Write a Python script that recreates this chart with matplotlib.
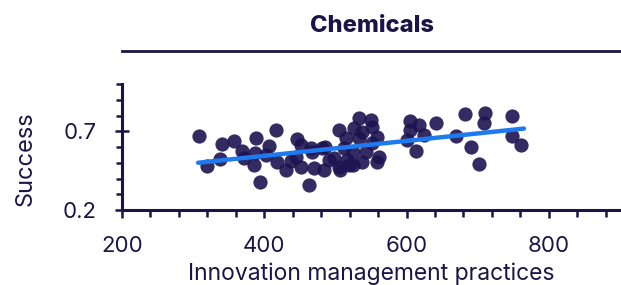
import matplotlib
matplotlib.use("Agg")
import matplotlib.pyplot as plt
from matplotlib.lines import Line2D
from matplotlib.ticker import MultipleLocator, FixedLocator, FormatStrFormatter

# data
practices = [308, 319, 338, 341, 357, 369, 372, 387, 385, 389, 394, 403, 407, 417,
             418, 430, 437, 445, 446, 452, 452, 463, 466, 470, 481, 484, 485, 498,
             505, 505, 512, 515, 516, 524, 524, 526, 533, 533, 538, 538, 543, 550,
             552, 552, 559, 559, 561, 507, 605, 618, 605, 601, 625, 613, 641, 670,
             682, 691, 702, 710, 709, 748, 748, 761, 519, 467, 491]
success = [0.668, 0.478, 0.523, 0.618, 0.637, 0.573, 0.529, 0.561, 0.485, 0.656,
           0.377, 0.548, 0.605, 0.706, 0.504, 0.453, 0.510, 0.535, 0.649, 0.611,
           0.472, 0.358, 0.592, 0.466, 0.592, 0.453, 0.599, 0.529, 0.706, 0.472,
           0.592, 0.656, 0.516, 0.567, 0.485, 0.719, 0.782, 0.656, 0.694, 0.504,
           0.567, 0.770, 0.725, 0.624, 0.662, 0.504, 0.535, 0.453, 0.763, 0.738,
           0.706, 0.643, 0.675, 0.573, 0.751, 0.668, 0.808, 0.599, 0.491, 0.814,
           0.751, 0.795, 0.668, 0.611, 0.485, 0.567, 0.516]
trend_x = [307, 765]
trend_y = [0.50, 0.717]

navy = "#1b1446"
dot = "#1d1450"
blue = "#1f7af0"

plt.rcParams["font.family"] = ["Inter", "DejaVu Sans"]

fig = plt.figure(figsize=(6.21, 2.85), dpi=100)
ax = fig.add_axes([122 / 621, 75 / 285, 498 / 621, 126 / 285])

ax.scatter(practices, success, s=105, color=dot, alpha=0.9, lw=0, zorder=2)
ax.plot(trend_x, trend_y, color=blue, lw=3.2, solid_capstyle="round", zorder=3)

ax.set_xlim(200, 900)
ax.set_ylim(0.2, 1.0)
ax.xaxis.set_major_locator(FixedLocator([200, 400, 600, 800]))
ax.xaxis.set_minor_locator(MultipleLocator(40))
ax.yaxis.set_major_locator(FixedLocator([0.2, 0.7]))
ax.yaxis.set_minor_locator(MultipleLocator(0.1))
ax.yaxis.set_major_formatter(FormatStrFormatter("%.1f"))

for s in ("top", "right"):
    ax.spines[s].set_visible(False)
for s in ("left", "bottom"):
    ax.spines[s].set_color(navy)
    ax.spines[s].set_linewidth(2.2)

ax.tick_params(axis="x", which="major", direction="out", length=6, width=1.8,
               color=navy, labelcolor=navy, labelsize=16, pad=13)
ax.tick_params(axis="x", which="minor", direction="out", length=5, width=1.8, color=navy)
ax.tick_params(axis="y", which="major", direction="inout", length=10, width=1.8,
               color=navy, labelcolor=navy, labelsize=16, pad=13)
ax.tick_params(axis="y", which="minor", direction="out", length=4, width=1.8, color=navy)

ax.set_xlabel("Innovation management practices", fontsize=16.5, color=navy)
ax.xaxis.set_label_coords(0.5, -0.415)
ax.set_ylabel("Success", fontsize=17, color=navy, va="center")
ax.yaxis.set_label_coords(-0.194, 0.41)

fig.text(372 / 621, 1 - 26 / 285, "Chemicals", ha="center", va="center",
         fontsize=17, fontweight="heavy", color=navy)
fig.add_artist(Line2D([122 / 621, 620 / 621], [1 - 51 / 285] * 2,
                      transform=fig.transFigure, color=navy, lw=2))

fig.savefig("out.png", dpi=100)
